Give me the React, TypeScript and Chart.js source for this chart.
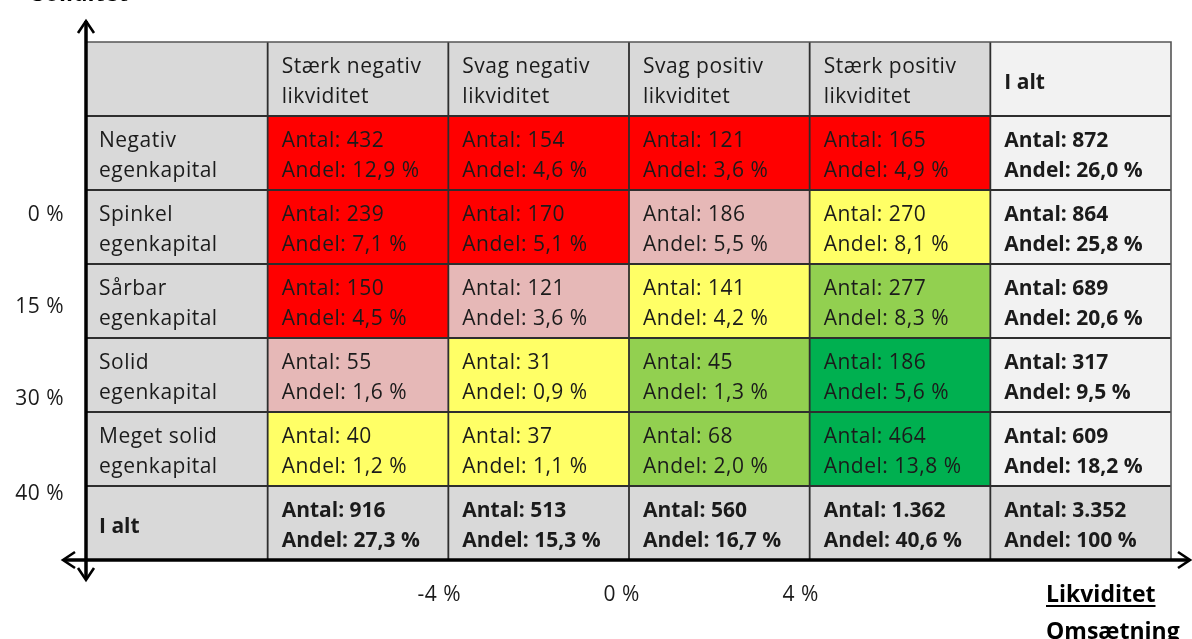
import React, { useEffect, useRef } from "react";
import { Chart, registerables } from "chart.js";

Chart.register(...registerables);

// ---- data ----
const columnKeys = ["head", "sn", "svn", "svp", "sp", "total"];
const columnHeaders = [
  "",
  "Stærk negativ\nlikviditet",
  "Svag negativ\nlikviditet",
  "Svag positiv\nlikviditet",
  "Stærk positiv\nlikviditet",
  "I alt",
];
const rowHeaders = [
  "Negativ\negenkapital",
  "Spinkel\negenkapital",
  "Sårbar\negenkapital",
  "Solid\negenkapital",
  "Meget solid\negenkapital",
  "I alt",
];

const antalNegativ = [432, 154, 121, 165, 872];
const antalSpinkel = [239, 170, 186, 270, 864];
const antalSaarbar = [150, 121, 141, 277, 689];
const antalSolid = [55, 31, 45, 186, 317];
const antalMegetSolid = [40, 37, 68, 464, 609];
const antalIAlt = [916, 513, 560, 1362, 3352];

const andelNegativ = [12.9, 4.6, 3.6, 4.9, 26.0];
const andelSpinkel = [7.1, 5.1, 5.5, 8.1, 25.8];
const andelSaarbar = [4.5, 3.6, 4.2, 8.3, 20.6];
const andelSolid = [1.6, 0.9, 1.3, 5.6, 9.5];
const andelMegetSolid = [1.2, 1.1, 2.0, 13.8, 18.2];
const andelIAlt = [27.3, 15.3, 16.7, 40.6, 100];

// risk level per body cell: 0 red, 1 pink, 2 yellow, 3 light green, 4 green
const riskNegativ = [0, 0, 0, 0];
const riskSpinkel = [0, 0, 1, 2];
const riskSaarbar = [0, 1, 2, 3];
const riskSolid = [1, 2, 3, 4];
const riskMegetSolid = [2, 2, 3, 4];

const yTickLabels = ["0 %", "15 %", "30 %", "40 %"];
const yTickValues = [2.31, 3.55, 4.8, 6.08];
const xTickLabels = ["-4 %", "0 %", "4 %"];
const xTickValues = [1.45, 2.46, 3.45];

const yAxisTitle = "Soliditet";
const xAxisTitle1 = "Likviditet";
const xAxisTitle2 = "Omsætning";

const antalRows = [antalNegativ, antalSpinkel, antalSaarbar, antalSolid, antalMegetSolid, antalIAlt];
const andelRows = [andelNegativ, andelSpinkel, andelSaarbar, andelSolid, andelMegetSolid, andelIAlt];
const riskRows = [riskNegativ, riskSpinkel, riskSaarbar, riskSolid, riskMegetSolid];

// ---- styles ----
const riskColors = ["#FF0000", "#E6B8B7", "#FFFF66", "#92D050", "#00B050"];
const headGray = "#D9D9D9";
const totalLight = "#F2F2F2";
const textColor = "#1b1b1b";
const FONT = "'Open Sans', 'Noto Sans', sans-serif";

function fmtAntal(n: number) {
  return n.toString().replace(/\B(?=(\d{3})+(?!\d))/g, ".");
}
function fmtAndel(n: number) {
  return (n === 100 ? "100" : n.toFixed(1).replace(".", ",")) + " %";
}

function cellColor(r: number, c: number) {
  if (r === 0) return c === 5 ? totalLight : headGray;
  if (r === 6) return headGray;
  if (c === 0) return headGray;
  if (c === 5) return totalLight;
  return riskColors[riskRows[r - 1][c - 1]];
}

function cellText(r: number, c: number): { lines: string[]; bold: boolean } {
  if (r === 0) return { lines: columnHeaders[c] ? columnHeaders[c].split("\n") : [], bold: c === 5 };
  if (c === 0) return { lines: rowHeaders[r - 1].split("\n"), bold: r === 6 };
  const a = antalRows[r - 1][c - 1];
  const p = andelRows[r - 1][c - 1];
  const bold = r === 6 || c === 5;
  return { lines: ["Antal: " + fmtAntal(a), "Andel: " + fmtAndel(p)], bold };
}

function setFont(ctx: any, bold: boolean, size: number) {
  ctx.font = (bold ? "bold " : "") + size + "px " + FONT;
  try {
    ctx.letterSpacing = bold ? "0px" : "0.5px";
  } catch (e) {}
}

const tablePlugin = {
  id: "tablePlugin",
  afterDatasetsDraw(chart: any) {
    const ctx = chart.ctx as CanvasRenderingContext2D;
    const xs = chart.scales.x;
    const ys = chart.scales.y;
    ctx.save();
    // cell texts
    chart.data.datasets.forEach((_ds: any, r: number) => {
      const meta = chart.getDatasetMeta(r);
      meta.data.forEach((el: any, c: number) => {
        const left = el.x - el.width / 2;
        const top = Math.min(el.y, el.base);
        const h = Math.abs(el.y - el.base);
        const cy = top + h / 2;
        const { lines, bold } = cellText(r, c);
        ctx.fillStyle = textColor;
        setFont(ctx, bold, 21);
        ctx.textAlign = "left";
        ctx.textBaseline = "middle";
        const padX = c === 0 ? 12 : 14;
        if (lines.length === 1) {
          ctx.fillText(lines[0], left + padX, cy + 4);
        } else {
          lines.forEach((ln, i) => ctx.fillText(ln, left + padX, cy - 12 + i * 30));
        }
      });
    });

    const L = chart.chartArea.left;
    const R = chart.chartArea.right;
    const T = chart.chartArea.top;
    const B = chart.chartArea.bottom;

    // inner grid lines
    ctx.strokeStyle = "#2e2e2e";
    ctx.lineWidth = 1.8;
    for (let i = 1; i < columnKeys.length; i++) {
      const x = xs.getPixelForValue(i - 0.5);
      ctx.beginPath();
      ctx.moveTo(x, T);
      ctx.lineTo(x, B);
      ctx.stroke();
    }
    for (let r = 1; r < 7; r++) {
      const y = ys.getPixelForValue(r);
      ctx.beginPath();
      ctx.moveTo(L, y);
      ctx.lineTo(R, y);
      ctx.stroke();
    }
    // outer top/right
    ctx.strokeStyle = "#555";
    ctx.lineWidth = 1.6;
    ctx.beginPath();
    ctx.moveTo(L, T);
    ctx.lineTo(R, T);
    ctx.lineTo(R, B);
    ctx.stroke();

    // axes
    ctx.strokeStyle = "#000";
    ctx.lineWidth = 3.5;
    ctx.lineCap = "butt";
    const ax = L - 1;
    ctx.beginPath();
    ctx.moveTo(ax, T - 21);
    ctx.lineTo(ax, B + 19);
    ctx.stroke();
    ctx.beginPath();
    ctx.moveTo(L - 23, B);
    ctx.lineTo(R + 18, B);
    ctx.stroke();
    ctx.lineWidth = 2.6;
    ctx.lineJoin = "miter";
    const arrow = (pts: number[][]) => {
      ctx.beginPath();
      ctx.moveTo(pts[0][0], pts[0][1]);
      ctx.lineTo(pts[1][0], pts[1][1]);
      ctx.lineTo(pts[2][0], pts[2][1]);
      ctx.stroke();
    };
    arrow([[ax - 8, T - 9], [ax, T - 21], [ax + 8, T - 9]]);
    arrow([[ax - 8, B + 8], [ax, B + 20], [ax + 8, B + 8]]);
    arrow([[L - 12, B - 8], [L - 24, B], [L - 12, B + 8]]);
    arrow([[R + 7, B - 8], [R + 19, B], [R + 7, B + 8]]);

    // tick labels
    ctx.fillStyle = textColor;
    setFont(ctx, false, 21);
    ctx.textBaseline = "middle";
    ctx.textAlign = "right";
    yTickLabels.forEach((t, i) => ctx.fillText(t, L - 23, ys.getPixelForValue(yTickValues[i]) + 2));
    ctx.textAlign = "center";
    xTickLabels.forEach((t, i) => ctx.fillText(t, xs.getPixelForValue(xTickValues[i]), B + 35));

    // axis titles
    setFont(ctx, true, 23);
    ctx.textAlign = "left";
    ctx.textBaseline = "alphabetic";
    ctx.fillStyle = "#000";
    ctx.fillText(yAxisTitle, 32, 1);
    const lx = R - 125;
    ctx.fillText(xAxisTitle1, lx, B + 42);
    const w = ctx.measureText(xAxisTitle1).width;
    ctx.fillRect(lx, B + 45, w, 2);
    ctx.fillText(xAxisTitle2, lx, B + 79);
    ctx.restore();
  },
};

export default function App() {
  const ref = useRef<HTMLCanvasElement | null>(null);
  useEffect(() => {
    if (!ref.current) return;
    const datasets = [0, 1, 2, 3, 4, 5, 6].map((r) => ({
      label: r === 0 ? "header" : rowHeaders[r - 1].replace("\n", " "),
      data: columnKeys.map(() => [r, r + 1]),
      backgroundColor: columnKeys.map((_k, c) => cellColor(r, c)),
      borderWidth: 0,
      grouped: false,
      barPercentage: 1,
      categoryPercentage: 1,
    }));
    const chart = new Chart(ref.current, {
      type: "bar",
      data: { labels: columnKeys, datasets: datasets as any },
      options: {
        responsive: false,
        animation: false,
        layout: { padding: { left: 87, right: 21, top: 42, bottom: 79 } },
        plugins: { legend: { display: false }, tooltip: { enabled: false }, title: { display: false } },
        scales: {
          x: { type: "category", display: false, offset: true, grid: { display: false } },
          y: { type: "linear", display: false, min: 0, max: 7, reverse: true },
        },
      },
      plugins: [tablePlugin],
    });
    return () => chart.destroy();
  }, []);
  return (
    <div style={{ position: "fixed", left: 0, top: 0, width: 1192, height: 639, background: "#fff" }}>
      <canvas ref={ref} width={1192} height={639} style={{ display: "block" }} />
    </div>
  );
}
